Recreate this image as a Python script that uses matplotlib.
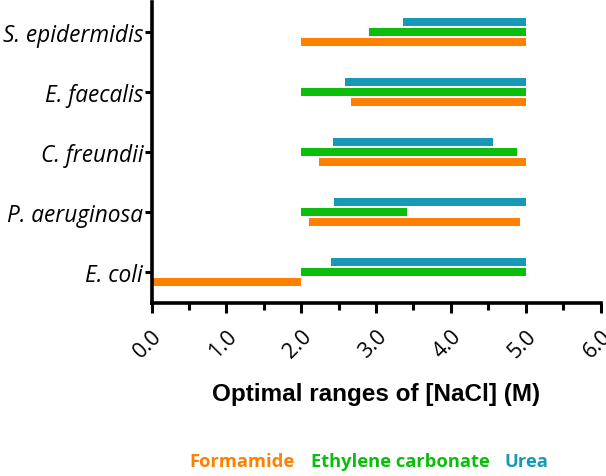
import matplotlib.pyplot as plt

# bacteria, bottom to top
species = ['E. coli', 'P. aeruginosa', 'C. freundii', 'E. faecalis', 'S. epidermidis']

# optimal [NaCl] ranges (start, end) in M
formamide_lo = [0.0, 2.10, 2.24, 2.66, 2.0]
formamide_hi = [2.0, 4.92, 5.0, 5.0, 5.0]
ethylene_lo = [2.0, 2.0, 2.0, 2.0, 2.90]
ethylene_hi = [5.0, 3.41, 4.88, 5.0, 5.0]
urea_lo = [2.40, 2.44, 2.42, 2.58, 3.36]
urea_hi = [5.0, 5.0, 4.56, 5.0, 5.0]

xticks = [0, 1, 2, 3, 4, 5, 6]
xminor = [0.5, 1.5, 2.5, 3.5, 4.5, 5.5]

c_form = '#FF8000'
c_eth = '#0CBE0C'
c_urea = '#1799B6'

fig = plt.figure(figsize=(6.06, 4.77), dpi=100)
ax = fig.add_axes([0.25, 0.363, 0.741, 0.631])

h = 0.13
off = 0.167
for i in range(len(species)):
    ax.barh(i - off, formamide_hi[i] - formamide_lo[i], left=formamide_lo[i],
            height=h, color=c_form)
    ax.barh(i, ethylene_hi[i] - ethylene_lo[i], left=ethylene_lo[i],
            height=h, color=c_eth)
    ax.barh(i + off, urea_hi[i] - urea_lo[i], left=urea_lo[i],
            height=h, color=c_urea)

ax.set_xlim(0, 6)
ax.set_ylim(-0.517, 4.5)
ax.set_yticks(range(len(species)))
ax.set_yticklabels(species, fontfamily='Open Sans', fontstyle='italic', fontsize=16.3)
ax.set_xticks(xticks)
ax.set_xticks(xminor, minor=True)
ax.set_xticklabels(['%.1f' % v for v in xticks], rotation=45, ha='right',
                   rotation_mode='anchor', fontfamily='Open Sans', fontsize=15.5)
ax.tick_params(axis='x', which='major', length=7, width=2.2, pad=9)
ax.tick_params(axis='x', which='minor', length=5, width=2.2)
ax.tick_params(axis='y', length=5, width=2.2, pad=1)
for s in ['top', 'right']:
    ax.spines[s].set_visible(False)
for s in ['left', 'bottom']:
    ax.spines[s].set_linewidth(2.6)

fig.text(0.62, 0.172, 'Optimal ranges of [NaCl] (M)', ha='center', va='center',
         fontfamily='Liberation Sans', fontweight='bold', fontsize=17.5)

# coloured legend words
fig.text(0.313, 0.02, 'Formamide', color=c_form, fontfamily='Open Sans',
         fontweight='bold', fontsize=13.2)
fig.text(0.513, 0.02, 'Ethylene carbonate', color=c_eth, fontfamily='Open Sans',
         fontweight='bold', fontsize=13.2)
fig.text(0.832, 0.02, 'Urea', color=c_urea, fontfamily='Open Sans',
         fontweight='bold', fontsize=13.2)

fig.savefig('out.png', dpi=100)
